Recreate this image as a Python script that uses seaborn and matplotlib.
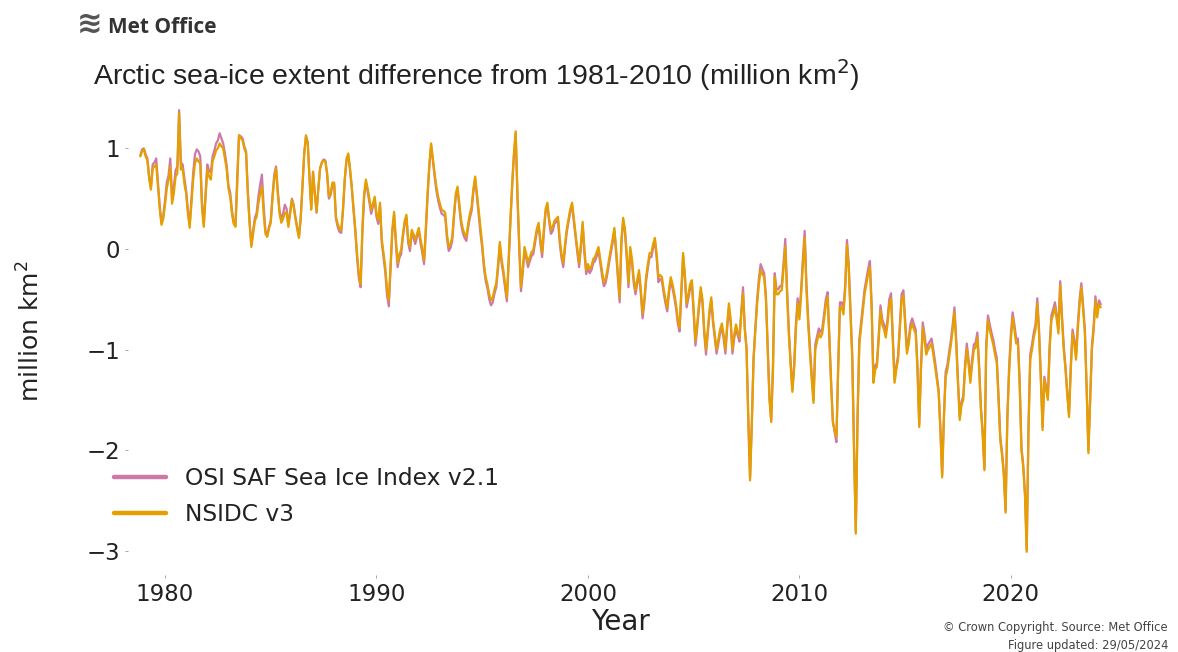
import numpy as np
import pandas as pd
import matplotlib
matplotlib.use("Agg")
import matplotlib.pyplot as plt
import seaborn as sns

# ---------------- data (million km^2, monthly, Nov 1978 - Apr 2024) ----------------
start_month = "1978-11-01"

nsidc_1978_1989 = [
    0.92, 0.97,
    0.99, 0.92, 0.88, 0.70, 0.59, 0.80, 0.82, 0.84, 0.62, 0.40, 0.24, 0.30,
    0.44, 0.60, 0.69, 0.82, 0.45, 0.55, 0.72, 0.75, 1.35, 0.79, 0.80, 0.65,
    0.55, 0.35, 0.21, 0.45, 0.69, 0.85, 0.90, 0.87, 0.85, 0.40, 0.22, 0.50,
    0.79, 0.72, 0.69, 0.87, 0.92, 0.98, 1.00, 1.05, 1.02, 1.00, 0.90, 0.79,
    0.60, 0.52, 0.35, 0.25, 0.22, 0.65, 1.13, 1.10, 1.08, 1.00, 0.95, 0.55,
    0.25, 0.02, 0.15, 0.28, 0.32, 0.45, 0.55, 0.62, 0.35, 0.15, 0.12, 0.20,
    0.26, 0.50, 0.70, 0.80, 0.55, 0.35, 0.26, 0.30, 0.36, 0.36, 0.22, 0.35,
    0.49, 0.42, 0.30, 0.20, 0.11, 0.30, 0.62, 0.95, 1.13, 1.05, 0.70, 0.39,
    0.77, 0.55, 0.37, 0.60, 0.80, 0.86, 0.88, 0.87, 0.75, 0.52, 0.55, 0.66,
    0.66, 0.32, 0.25, 0.20, 0.19, 0.40, 0.70, 0.90, 0.95, 0.80, 0.62, 0.40,
    0.20, -0.05, -0.25, -0.35, 0.20, 0.55, 0.69, 0.60, 0.50, 0.39, 0.45, 0.52,
]
nsidc_1990s = [
    0.35, 0.29, 0.46, 0.10, -0.04, -0.18, -0.40, -0.51, -0.15, 0.20, 0.37, 0.10,
    -0.14, -0.05, -0.01, 0.15, 0.28, 0.34, 0.10, 0.02, 0.19, 0.15, 0.09, 0.15,
    0.21, 0.10, 0.00, -0.11, 0.20, 0.55, 0.84, 1.05, 0.90, 0.75, 0.62, 0.52,
    0.45, 0.39, 0.38, 0.36, 0.15, 0.02, 0.05, 0.12, 0.35, 0.55, 0.62, 0.45,
    0.29, 0.20, 0.15, 0.12, 0.25, 0.35, 0.42, 0.60, 0.72, 0.55, 0.39, 0.20,
    0.05, -0.15, -0.28, -0.35, -0.45, -0.51, -0.48, -0.40, -0.34, -0.15, 0.07, -0.10,
    -0.21, -0.35, -0.48, -0.10, 0.30, 0.65, 0.95, 1.17, 0.55, 0.05, -0.38, -0.20,
    0.02, -0.05, -0.14, -0.08, -0.03, -0.01, 0.10, 0.20, 0.26, 0.10, -0.04, 0.20,
    0.40, 0.46, 0.30, 0.19, 0.22, 0.28, 0.30, 0.32, 0.10, -0.05, -0.14, 0.05,
    0.20, 0.30, 0.40, 0.46, 0.30, 0.15, 0.00, -0.14, 0.05, 0.27, 0.00, -0.21,
]
nsidc_2000s = [
    -0.15, -0.20, -0.17, -0.10, -0.08, -0.03, 0.02, -0.10, -0.22, -0.33, -0.30, -0.21,
    -0.10, 0.00, 0.10, 0.21, 0.00, -0.25, -0.48, 0.10, 0.31, 0.20, -0.04, -0.34,
    0.02, -0.10, -0.30, -0.41, -0.30, -0.21, -0.40, -0.64, -0.50, -0.28, -0.15, -0.04,
    -0.04, 0.05, 0.11, -0.05, -0.28, -0.26, -0.28, -0.40, -0.50, -0.58, -0.40, -0.28,
    -0.35, -0.44, -0.55, -0.70, -0.78, -0.40, -0.04, -0.25, -0.54, -0.45, -0.35, -0.31,
    -0.60, -0.91, -0.75, -0.55, -0.38, -0.50, -0.80, -1.00, -0.80, -0.60, -0.48, -0.70,
    -0.85, -1.00, -0.90, -0.80, -0.74, -0.85, -1.00, -0.75, -0.54, -0.70, -1.00, -0.85,
    -0.75, -0.82, -0.88, -0.65, -0.44, -0.80, -1.00, -1.70, -2.30, -1.75, -1.10, -0.81,
    -0.55, -0.35, -0.21, -0.25, -0.28, -0.50, -1.00, -1.50, -1.72, -1.20, -0.28, -0.45,
    -0.45, -0.42, -0.41, -0.20, 0.02, -0.45, -0.85, -1.15, -1.42, -1.20, -0.80, -0.54,
]
nsidc_2010s = [
    -0.70, -0.45, -0.15, 0.11, -0.40, -0.75, -1.04, -1.30, -1.53, -1.00, -0.92, -0.84,
    -0.88, -0.84, -0.70, -0.55, -0.48, -0.90, -1.35, -1.73, -1.80, -1.87, -1.20, -0.58,
    -0.58, -0.65, -0.40, 0.04, -0.20, -0.65, -1.10, -2.00, -2.83, -1.70, -0.95, -0.78,
    -0.60, -0.45, -0.35, -0.25, -0.18, -0.60, -1.33, -1.20, -1.17, -0.90, -0.61, -0.75,
    -0.80, -0.88, -0.75, -0.55, -0.49, -0.90, -1.33, -1.20, -1.10, -0.80, -0.50, -0.46,
    -0.75, -1.04, -0.95, -0.80, -0.74, -0.80, -0.84, -1.20, -1.77, -1.20, -0.78, -0.90,
    -1.05, -1.00, -0.97, -0.94, -1.05, -1.17, -1.30, -1.43, -1.80, -2.27, -1.70, -1.27,
    -1.20, -1.07, -0.95, -0.80, -0.63, -0.95, -1.35, -1.70, -1.55, -1.50, -1.20, -0.99,
    -1.15, -1.33, -1.15, -1.00, -0.98, -0.88, -1.20, -1.60, -1.85, -2.20, -1.00, -0.71,
    -0.80, -0.88, -0.95, -1.05, -1.13, -1.50, -1.90, -2.05, -2.25, -2.62, -1.70, -1.23,
]
nsidc_2020s = [
    -0.90, -0.68, -0.80, -0.94, -0.94, -1.35, -2.00, -2.17, -2.45, -3.01, -1.80, -1.10,
    -1.00, -0.88, -0.80, -0.54, -0.85, -1.30, -1.80, -1.30, -1.40, -1.50, -1.00, -0.71,
    -0.65, -0.58, -0.70, -0.84, -0.36, -0.70, -1.00, -1.20, -1.45, -1.67, -1.20, -0.84,
    -0.95, -1.10, -0.80, -0.55, -0.38, -0.60, -0.84, -1.40, -2.03, -1.50, -1.00, -0.80,
    -0.51, -0.68, -0.55, -0.58,
]

osisaf_1978_1989 = [
    0.93, 0.99,
    1.00, 0.94, 0.90, 0.72, 0.61, 0.84, 0.86, 0.90, 0.66, 0.43, 0.26, 0.33,
    0.48, 0.66, 0.73, 0.90, 0.52, 0.62, 0.78, 0.82, 1.38, 0.86, 0.84, 0.70,
    0.58, 0.38, 0.24, 0.50, 0.76, 0.94, 0.99, 0.97, 0.92, 0.46, 0.25, 0.55,
    0.84, 0.78, 0.76, 0.92, 0.98, 1.05, 1.08, 1.15, 1.10, 1.05, 0.95, 0.83,
    0.63, 0.56, 0.38, 0.26, 0.24, 0.72, 1.13, 1.12, 1.10, 1.02, 0.97, 0.58,
    0.27, 0.04, 0.18, 0.31, 0.36, 0.52, 0.64, 0.74, 0.42, 0.18, 0.14, 0.22,
    0.28, 0.53, 0.74, 0.82, 0.58, 0.38, 0.30, 0.35, 0.44, 0.40, 0.24, 0.37,
    0.50, 0.44, 0.32, 0.22, 0.12, 0.31, 0.62, 0.95, 1.12, 1.06, 0.71, 0.40,
    0.76, 0.56, 0.36, 0.60, 0.80, 0.86, 0.89, 0.88, 0.74, 0.50, 0.54, 0.64,
    0.64, 0.30, 0.22, 0.17, 0.16, 0.38, 0.68, 0.88, 0.93, 0.78, 0.60, 0.38,
    0.17, -0.09, -0.29, -0.38, 0.16, 0.52, 0.66, 0.57, 0.46, 0.35, 0.42, 0.49,
]
osisaf_1990s = [
    0.32, 0.25, 0.43, 0.06, -0.08, -0.23, -0.46, -0.57, -0.20, 0.17, 0.34, 0.06,
    -0.18, -0.09, -0.05, 0.12, 0.25, 0.31, 0.06, -0.02, 0.16, 0.11, 0.05, 0.12,
    0.18, 0.06, -0.04, -0.15, 0.17, 0.53, 0.82, 1.03, 0.88, 0.72, 0.58, 0.48,
    0.41, 0.35, 0.34, 0.32, 0.11, -0.02, 0.01, 0.08, 0.32, 0.52, 0.59, 0.42,
    0.25, 0.16, 0.11, 0.08, 0.21, 0.31, 0.38, 0.57, 0.70, 0.52, 0.35, 0.16,
    0.01, -0.19, -0.32, -0.39, -0.50, -0.56, -0.53, -0.44, -0.38, -0.19, 0.04, -0.14,
    -0.25, -0.39, -0.52, -0.14, 0.27, 0.62, 0.93, 1.15, 0.52, 0.02, -0.42, -0.24,
    -0.02, -0.09, -0.18, -0.12, -0.07, -0.05, 0.06, 0.17, 0.23, 0.06, -0.08, 0.16,
    0.37, 0.43, 0.27, 0.15, 0.18, 0.25, 0.27, 0.29, 0.06, -0.09, -0.18, 0.01,
    0.17, 0.27, 0.37, 0.43, 0.27, 0.12, -0.04, -0.18, 0.01, 0.24, -0.04, -0.25,
]
osisaf_2000s = [
    -0.19, -0.24, -0.21, -0.14, -0.12, -0.07, -0.02, -0.14, -0.26, -0.37, -0.34, -0.25,
    -0.14, -0.04, 0.06, 0.18, -0.04, -0.29, -0.53, 0.06, 0.28, 0.17, -0.08, -0.38,
    -0.02, -0.14, -0.34, -0.45, -0.34, -0.25, -0.44, -0.69, -0.54, -0.32, -0.19, -0.08,
    -0.08, 0.01, 0.08, -0.09, -0.33, -0.30, -0.32, -0.44, -0.54, -0.62, -0.44, -0.32,
    -0.39, -0.48, -0.59, -0.74, -0.82, -0.44, -0.07, -0.29, -0.58, -0.49, -0.39, -0.35,
    -0.64, -0.96, -0.79, -0.59, -0.42, -0.54, -0.84, -1.05, -0.84, -0.64, -0.52, -0.74,
    -0.89, -1.04, -0.94, -0.84, -0.78, -0.89, -1.04, -0.79, -0.58, -0.74, -1.04, -0.89,
    -0.79, -0.86, -0.92, -0.62, -0.38, -0.78, -0.98, -1.68, -2.27, -1.72, -1.07, -0.78,
    -0.50, -0.30, -0.15, -0.20, -0.24, -0.46, -0.96, -1.46, -1.70, -1.16, -0.24, -0.40,
    -0.40, -0.37, -0.36, -0.14, 0.10, -0.40, -0.80, -1.11, -1.40, -1.16, -0.75, -0.49,
]
osisaf_2010s = [
    -0.65, -0.40, -0.09, 0.18, -0.35, -0.70, -0.98, -1.25, -1.50, -0.95, -0.87, -0.79,
    -0.83, -0.79, -0.65, -0.50, -0.43, -0.86, -1.32, -1.71, -1.82, -1.92, -1.17, -0.53,
    -0.53, -0.60, -0.35, 0.09, -0.15, -0.60, -1.06, -1.97, -2.81, -1.66, -0.90, -0.73,
    -0.55, -0.40, -0.30, -0.20, -0.12, -0.55, -1.30, -1.16, -1.13, -0.86, -0.56, -0.70,
    -0.75, -0.83, -0.70, -0.50, -0.44, -0.86, -1.30, -1.16, -1.06, -0.76, -0.45, -0.41,
    -0.70, -0.99, -0.90, -0.75, -0.69, -0.75, -0.80, -1.16, -1.74, -1.16, -0.73, -0.85,
    -1.00, -0.95, -0.92, -0.89, -1.00, -1.12, -1.26, -1.40, -1.77, -2.25, -1.66, -1.22,
    -1.15, -1.02, -0.90, -0.75, -0.58, -0.90, -1.31, -1.67, -1.52, -1.46, -1.15, -0.94,
    -1.10, -1.28, -1.10, -0.95, -0.93, -0.83, -1.16, -1.57, -1.82, -2.18, -0.96, -0.66,
    -0.75, -0.83, -0.90, -1.00, -1.08, -1.46, -1.87, -2.02, -2.22, -2.60, -1.66, -1.18,
]
osisaf_2020s = [
    -0.85, -0.63, -0.75, -0.89, -0.89, -1.31, -1.97, -2.14, -2.42, -2.99, -1.76, -1.05,
    -0.95, -0.83, -0.75, -0.49, -0.80, -1.26, -1.77, -1.27, -1.37, -1.47, -0.96, -0.66,
    -0.60, -0.53, -0.65, -0.79, -0.32, -0.66, -0.96, -1.17, -1.42, -1.64, -1.16, -0.80,
    -0.90, -1.05, -0.75, -0.50, -0.34, -0.56, -0.80, -1.37, -2.00, -1.47, -0.96, -0.76,
    -0.47, -0.64, -0.51, -0.55,
]

series_names = ["OSI SAF Sea Ice Index v2.1", "NSIDC v3"]
series_colors = ["#CC79A7", "#E69F00"]
y_ticks = [1, 0, -1, -2, -3]
x_ticks = [1980, 1990, 2000, 2010, 2020]

# ---------------- build table ----------------
nsidc = (nsidc_1978_1989 + nsidc_1990s + nsidc_2000s + nsidc_2010s + nsidc_2020s)
osisaf = (osisaf_1978_1989 + osisaf_1990s + osisaf_2000s + osisaf_2010s + osisaf_2020s)


def to_decimal_year(n):
    d = pd.date_range(start_month, periods=n, freq="MS")
    return d.year + (d.month - 1) / 12.0


df = pd.concat([
    pd.DataFrame({"Year": to_decimal_year(len(osisaf)), "value": osisaf,
                  "Dataset": series_names[0]}),
    pd.DataFrame({"Year": to_decimal_year(len(nsidc)), "value": nsidc,
                  "Dataset": series_names[1]}),
], ignore_index=True)

# ---------------- plot ----------------
sns.set_theme(style="ticks")
plt.rcParams["font.family"] = ["DejaVu Sans"]

W, H = 1178, 652
fig = plt.figure(figsize=(W / 100, H / 100), dpi=100)
ax_l, ax_r, ax_t, ax_b = 128, 1113, 88, 575
ax = fig.add_axes([ax_l / W, 1 - ax_b / H, (ax_r - ax_l) / W, (ax_b - ax_t) / H])

sns.lineplot(data=df, x="Year", y="value", hue="Dataset",
             hue_order=series_names, palette=series_colors,
             estimator=None, linewidth=1.6, ax=ax)

ax.set_xlim(1978.25, 2024.83)
ax.set_ylim(-3.24, 1.60)
ax.set_xticks(x_ticks)
ax.set_yticks(y_ticks)
ax.set_xticklabels([str(v) for v in x_ticks])
ax.set_yticklabels(["\u2212" + str(-v) if v < 0 else str(v) for v in y_ticks])
ax.tick_params(axis="both", labelsize=16.5, length=2.5, width=0.6,
               color="#999999", labelcolor="#222222", pad=3)
sns.despine(ax=ax, left=True, bottom=True, right=True, top=True)

ax.set_xlabel("Year", fontsize=20, color="#222222", labelpad=2)
ax.set_ylabel("million km$^2$", fontsize=18, color="#222222", labelpad=30)

leg = ax.legend(loc="lower left", bbox_to_anchor=(-0.024, 0.082), frameon=False,
                fontsize=16.8, handlelength=2.25, handletextpad=0.8,
                labelspacing=0.55, borderaxespad=0)
for line in leg.get_lines():
    line.set_linewidth(3.2)
for t in leg.get_texts():
    t.set_color("#222222")

# title
fig.text(93 / W, 1 - 85 / H,
         "Arctic sea-ice extent difference from 1981-2010 (million km$^2$)",
         fontsize=20.5, family=["Liberation Sans", "DejaVu Sans"],
         color="#222222", ha="left", va="baseline")

# Met Office branding
fig.text(77 / W, 1 - 33 / H, "\u224b", fontsize=22, color="#555555",
         ha="left", va="baseline", fontweight="bold")
fig.text(108 / W, 1 - 33 / H, "Met Office", fontsize=15,
         family=["Open Sans", "DejaVu Sans"], fontweight="bold",
         color="#333333", ha="left", va="baseline")

# footer
fig.text(1168 / W, 1 - 631 / H, "\u00a9 Crown Copyright. Source: Met Office",
         fontsize=8.3, color="#444444", ha="right", va="baseline")
fig.text(1168 / W, 1 - 649 / H, "Figure updated: 29/05/2024",
         fontsize=8.3, color="#444444", ha="right", va="baseline")

fig.savefig("out.png", dpi=100, facecolor="white")
